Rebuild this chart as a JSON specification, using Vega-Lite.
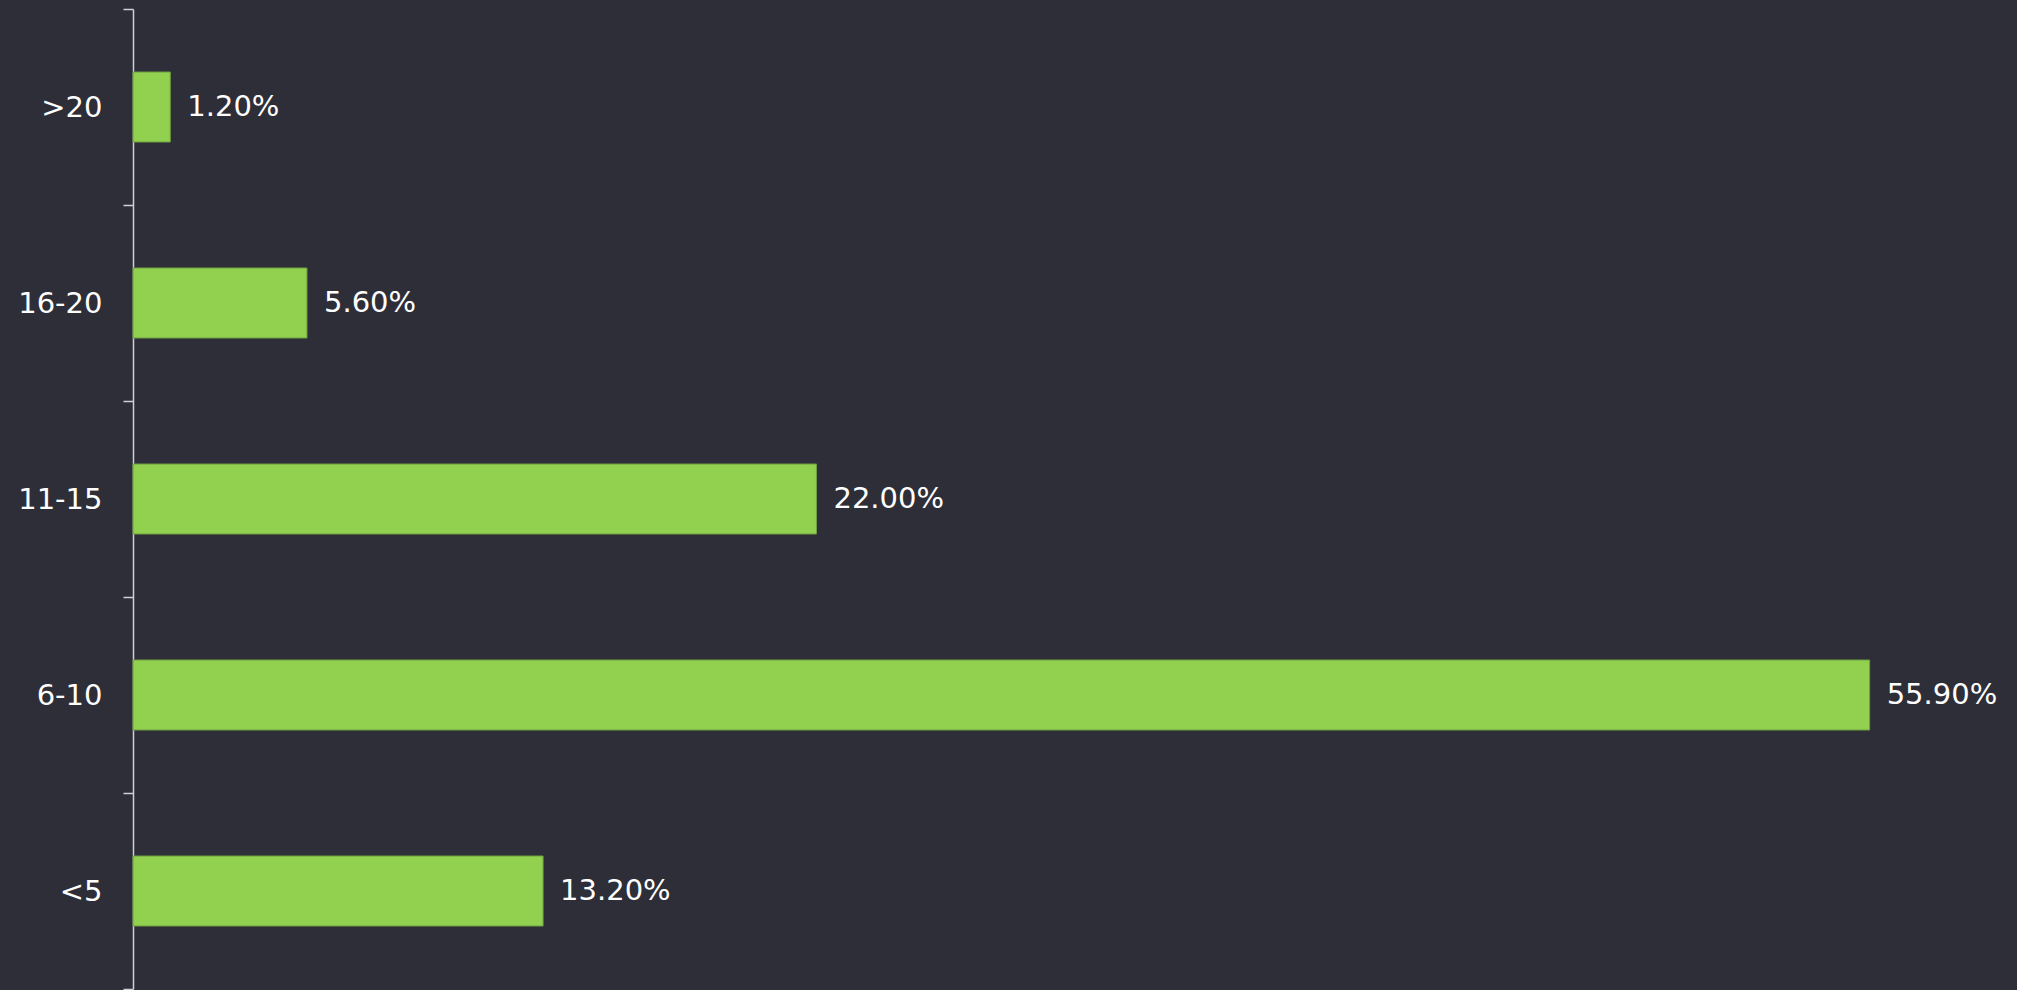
{
  "$schema": "https://vega.github.io/schema/vega-lite/v6.json",
  "autosize": {"type": "none"},
  "padding": {"left": 133, "top": 9, "right": 20, "bottom": 1},
  "width": 1864,
  "height": 980,
  "background": "#2e2e38",
  "config": {"view": {"stroke": null}, "font": "DejaVu Sans"},
  "data": {"values": [
    {"group": ">20", "share": 0.012},
    {"group": "16-20", "share": 0.056},
    {"group": "11-15", "share": 0.22},
    {"group": "6-10", "share": 0.559},
    {"group": "<5", "share": 0.132}
  ]},
  "encoding": {
    "y": {
      "field": "group", "type": "nominal",
      "sort": [">20", "16-20", "11-15", "6-10", "<5"],
      "scale": {"paddingInner": 0, "paddingOuter": 0},
      "axis": {
        "title": null,
        "tickBand": "extent",
        "domainColor": "#d0d0d8",
        "domainWidth": 1.5,
        "tickColor": "#d0d0d8",
        "tickWidth": 1.5,
        "tickSize": 10,
        "labelPadding": 21,
        "labelFontSize": 29,
        "labelColor": "#ffffff",
        "labelFont": "DejaVu Sans"
      }
    },
    "x": {
      "field": "share", "type": "quantitative",
      "scale": {"domain": [0, 0.6], "nice": false},
      "axis": null
    }
  },
  "layer": [
    {"mark": {"type": "bar", "size": 70, "color": "#92d050", "stroke": "#6f9e40", "strokeWidth": 1}},
    {"mark": {"type": "text", "align": "left", "baseline": "middle", "dx": 17, "fontSize": 29, "color": "#ffffff", "font": "DejaVu Sans"},
     "encoding": {"text": {"field": "share", "type": "quantitative", "format": ".2%"}}}
  ]
}
